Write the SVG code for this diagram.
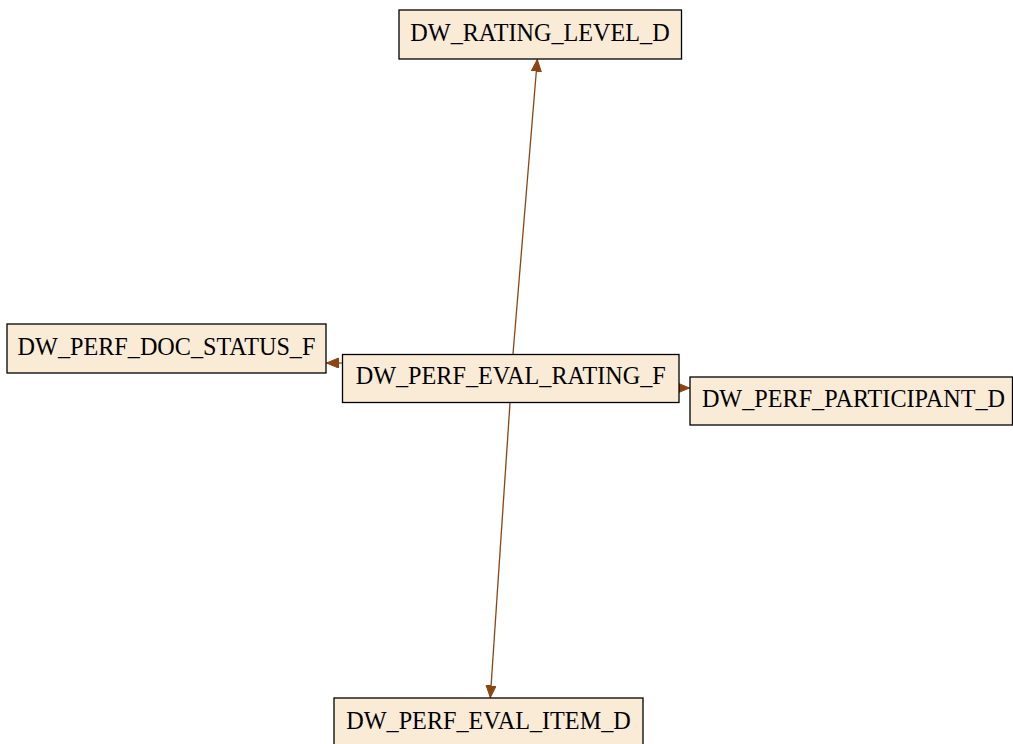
<svg xmlns="http://www.w3.org/2000/svg" width="1013" height="744" viewBox="0 0 1013 744">
<style>
.node rect{fill:#FAEBD7;stroke:#000;stroke-width:1.3}
.node text{font-family:"Liberation Serif","Times New Roman",serif;font-size:24.2px;fill:#000;text-anchor:middle}
.edge{stroke:#8B4513;stroke-width:1.3;fill:none;marker-end:url(#ah)}
</style>
<defs>
<marker id="ah" markerUnits="userSpaceOnUse" markerWidth="14" markerHeight="12" refX="12" refY="5" orient="auto">
<path d="M0,0 L12,5 L0,10 z" fill="#8B4513" stroke="#8B4513" stroke-width="1"/>
</marker>
</defs>
<rect width="1013" height="744" fill="#fff"/>
<g id="connectors">
<line class="edge" x1="513" y1="354" x2="537.3" y2="59.5"/>
<line class="edge" x1="342" y1="363" x2="326.5" y2="363"/>
<line class="edge" x1="679" y1="388" x2="689.5" y2="388"/>
<line class="edge" x1="510" y1="403" x2="490.3" y2="697.5"/>
</g>
<g id="DW_RATING_LEVEL_D" class="node">
<rect x="399" y="10" width="282.5" height="49"/>
<text x="540" y="41">DW_RATING_LEVEL_D</text>
</g>
<g id="DW_PERF_DOC_STATUS_F" class="node">
<rect x="7" y="324" width="319" height="49"/>
<text x="166.5" y="354.5">DW_PERF_DOC_STATUS_F</text>
</g>
<g id="DW_PERF_EVAL_RATING_F" class="node">
<rect x="342.5" y="354.5" width="336.5" height="48"/>
<text x="510.7" y="384">DW_PERF_EVAL_RATING_F</text>
</g>
<g id="DW_PERF_PARTICIPANT_D" class="node">
<rect x="690" y="377" width="322.5" height="48"/>
<text x="853.5" y="407">DW_PERF_PARTICIPANT_D</text>
</g>
<g id="DW_PERF_EVAL_ITEM_D" class="node">
<rect x="334" y="698" width="309" height="49"/>
<text x="488.5" y="728.5">DW_PERF_EVAL_ITEM_D</text>
</g>
</svg>
